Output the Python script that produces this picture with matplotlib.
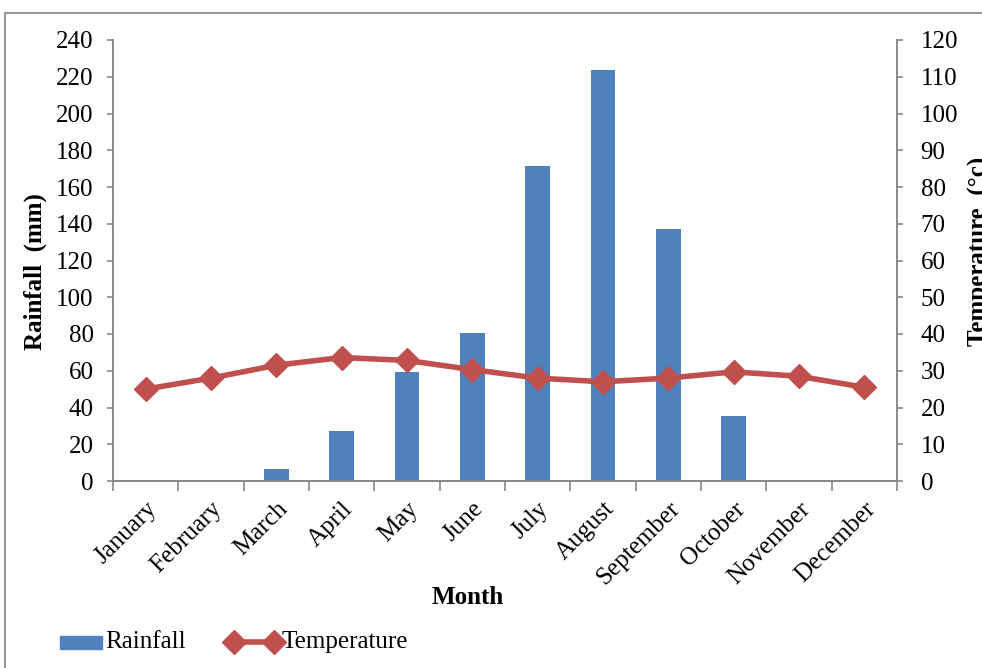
import matplotlib.pyplot as plt
from matplotlib.patches import Rectangle
from matplotlib.lines import Line2D
import numpy as np

plt.rcParams['font.family'] = ['Liberation Serif', 'DejaVu Serif']

months = ['January', 'February', 'March', 'April', 'May', 'June', 'July',
          'August', 'September', 'October', 'November', 'December']
rainfall = [0.5, 0, 6.5, 27, 59.5, 80.5, 171.5, 223.5, 137, 35.5, 0.5, 0.5]
temperature = [25.0, 28.0, 31.5, 33.6, 32.8, 30.3, 28.0, 27.0, 28.0, 29.7, 28.5, 25.5]

bar_col = '#4F81BD'
line_col = '#C0504D'
axis_col = '#888888'
fs = 18

fig = plt.figure(figsize=(9.82, 6.68), dpi=100)
ax = fig.add_axes([113/982, 1 - 481/668, (897-113)/982, (481-40)/668])
ax2 = ax.twinx()

x = np.arange(len(months))
ax.bar(x, rainfall, width=0.38, color=bar_col, zorder=2)
ax2.plot(x, temperature, color=line_col, lw=4, marker='D', ms=12, zorder=3)

ax.set_xlim(-0.5, 11.5)
ax.set_ylim(0, 240)
ax.set_yticks(range(0, 241, 20))
ax2.set_ylim(0, 120)
ax2.set_yticks(range(0, 121, 10))

ax.set_xticks(np.arange(-0.5, 12, 1))
ax.set_xticklabels([])
ax.set_xticks(x, minor=True)
ax.set_xticklabels(months, minor=True, rotation=45, ha='right',
                   rotation_mode='anchor', fontsize=fs)
ax.tick_params(axis='x', which='major', length=7, color=axis_col, width=1.2)
ax.tick_params(axis='x', which='minor', length=0, pad=12)
ax.tick_params(axis='y', length=4, color=axis_col, labelsize=fs, width=1.2, pad=10)
ax2.tick_params(axis='y', length=4, color=axis_col, labelsize=fs, width=1.2, pad=13)

for a in (ax, ax2):
    a.spines['top'].set_visible(False)
    for s in ('left', 'right', 'bottom'):
        a.spines[s].set_color(axis_col)
        a.spines[s].set_linewidth(1.2)

fig.text(468/982, 1 - 598/668, 'Month', fontsize=fs, fontweight='bold',
         ha='center', va='center')
fig.text(35/982, 1 - 272/668, 'Rainfall  (mm)', fontsize=fs, fontweight='bold',
         rotation=90, ha='center', va='center')
fig.text(979/982, 1 - 251/668, 'Temperature  (°c)', fontsize=fs, fontweight='bold',
         rotation=90, ha='center', va='center')

# legend drawn at the bottom left
ly = 1 - 642/668
fig.patches.append(Rectangle((60/982, 1 - 649/668), 42/982, 13/668,
                             transform=fig.transFigure, color=bar_col))
fig.text(105/982, ly, 'Rainfall', fontsize=fs, ha='left', va='center')
fig.lines.append(Line2D([234/982, 274/982], [ly, ly], transform=fig.transFigure,
                        color=line_col, lw=4, marker='D', ms=12))
fig.text(282/982, ly, 'Temperature', fontsize=fs, ha='left', va='center')

fig.patches.append(Rectangle((5/982, -0.05), 1.2, 1 - 13/668 + 0.05,
                             transform=fig.transFigure, fill=False,
                             edgecolor='#999999', lw=1.5))

fig.savefig('out.png', dpi=100)
